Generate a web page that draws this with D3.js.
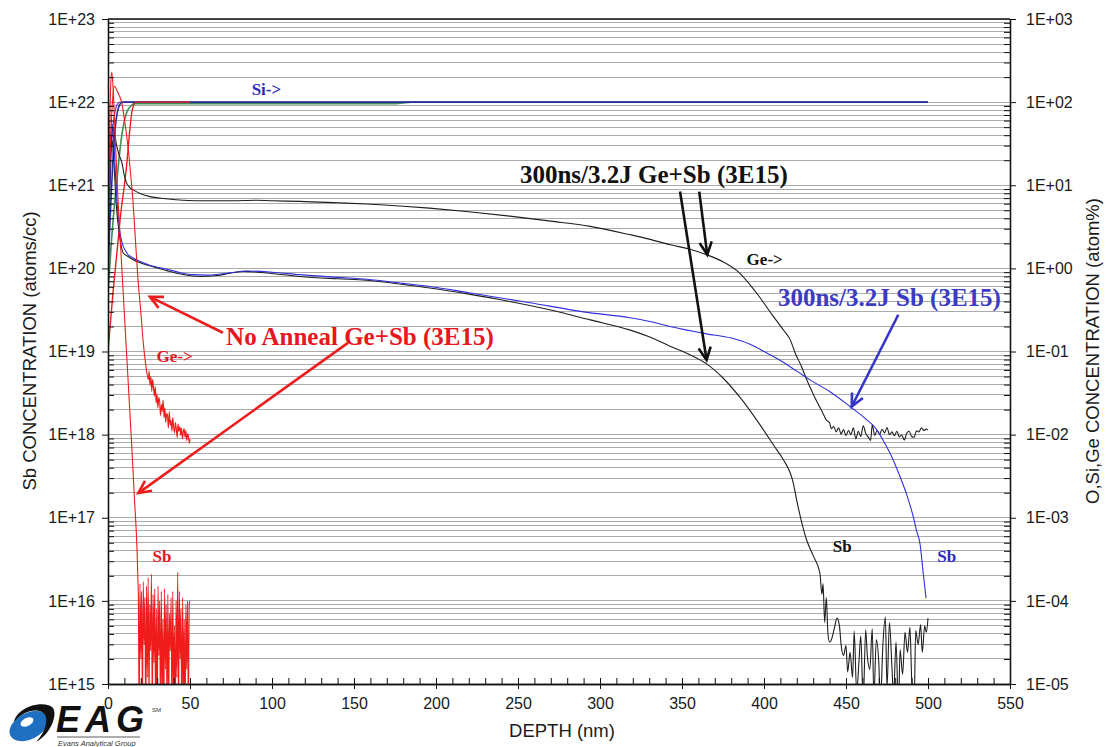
<!DOCTYPE html>
<html><head><meta charset="utf-8">
<script src="https://cdn.jsdelivr.net/npm/d3@7"></script>
<style>body{margin:0;background:#fff}svg{display:block}</style>
</head><body>
<svg id="chart" width="1107" height="747"></svg>
<script>
// ---- SIMS depth profiles: [depth nm, value] ----
// Matrix Si, right axis (atom%)
const siBlue   = [[0,1],[1,3],[2,8],[3,20],[4,40],[5,62],[6,80],[7,92],[8,98],[9.5,100],[500,100]];
const siPurple = [[0,2],[1,8],[2,25],[3,50],[4,72],[5,88],[6,96],[7.3,100],[500,100]];
const siGreen  = [[0,0.5],[2,2],[4,6],[6,15],[8,35],[10,60],[12,80],[14,90],[16,96],[175,96],[185,99.5],[500,99.5]];
const siRed    = [[0,0.1],[3,0.5],[6,2],[8,5],[10,10],[11.4,17.7],[13,40],[14.5,75],[16,95],[17,100],[50,100]];

// 300ns/3.2J Ge+Sb : Ge (atom%, right axis)
const geAnneal = [[0,2],[1,12],[2,35],[3,48],[4,42],[5,32],[6.5,24],[8.4,19],[10,13],[11.4,10.6],[13,9.5],[15.4,8.8],[20,7.9],[25.6,7.3],[35,6.9],[45.7,6.6],[60,6.5],[76,6.5],[90,6.6],[100,6.5],[117,6.4],[140,6.15],[157.7,5.95],[180,5.6],[196,5.3],[220,4.8],[245,4.25],[270,3.7],[294,3.2],[318,2.55],[330,2.25],[343,1.92],[355,1.7],[365,1.46],[375,1.2],[385,0.885],[395,0.52],[405,0.276],[412,0.18],[416,0.138],[419,0.096],[423,0.065],[426,0.046],[431,0.028],[436,0.018],[438,0.015],[440,0.0139],
  [441,0.0118],[442.5,0.0125],[444,0.0108],[445.5,0.0121],[447,0.0102],[448.5,0.0115],[450,0.0097],[451.5,0.0112],[453,0.0100],[454.5,0.0121],[456,0.0089],[457.5,0.0110],[459,0.0095],[460.5,0.0128],[462,0.0104],[463.5,0.0094],[465,0.0085],[466,0.0131],[467.5,0.0098],[469,0.0112],[470.5,0.0101],[472,0.0116],[473.5,0.0105],[475,0.0122],[476.5,0.0100],[478,0.0108],[479.5,0.0097],[481,0.0110],[482.5,0.0094],[484,0.0099],[485.5,0.0086],[487,0.0104],[488.5,0.0110],[490,0.0095],[491.5,0.0093],[493,0.0111],[494.5,0.0108],[496,0.0121],[497.5,0.0112],[499,0.0117],[500,0.0113]];

// 300ns/3.2J Ge+Sb : Sb (atoms/cc, left axis)
const sbAnneal = [[0,3e19],[0.8,4e20],[1.6,2.5e21],[2.5,3.5e21],[3.5,2e21],[5,6e20],[7,2.5e20],[9.3,1.53e20],[12,1.4e20],[15.4,1.27e20],[25,1.08e20],[35.8,9.4e19],[45,8.5e19],[56,8.0e19],[66.3,8.2e19],[75,8.8e19],[82.5,9.2e19],[96.8,8.8e19],[117,8.0e19],[140,7.5e19],[157.7,7.2e19],[180,6.4e19],[196.3,5.8e19],[220,4.9e19],[245,4.0e19],[270,3.15e19],[294,2.4e19],[318,1.82e19],[330,1.5e19],[343,1.15e19],[355,9.1e18],[365,7.1e18],[375,4.8e18],[385.4,2.8e18],[397.6,1.31e18],[407.7,6.6e17],[411.8,5e17],[417.9,2.6e17],[419.9,1.64e17],[426,5.4e16],[430,3.5e16],[434.1,2.15e16],[435.3,1.2e16],
  [436,1.6e16],[437,5.5e15],[438,1.1e16],[439,4.0e15],[440,3.2e15],[441.5,3.6e15],[443,4.8e15],[444.5,6.2e15],[446,5.0e15],[447,3.0e15],[448.5,2.2e15],[450,2.9e15],[451,1.4e15],[452.5,2.4e15],[454,1.2e15],[455,4.3e15],[456.5,8e14],[458,2.0e15],[459,3.8e15],[460.5,6e14],[462,4.5e15],[463,2.2e15],[464.5,1.5e15],[466,4.6e15],[467,7e14],[468.5,3.4e15],[470,1.8e15],[471,6e14],[472.5,3.0e15],[474,6.4e15],[475,9e14],[476.5,5.5e15],[478,1.6e15],[479,7e14],[480.5,3.2e15],[482,5e14],[483,2.6e15],[484.5,1.3e15],[486,4.2e15],[487.5,2.4e15],[489,4.8e15],[490,1.2e15],[491.5,5e14],[492.5,4.4e15],[494,3.0e15],[495.5,5.2e15],[496.5,2.4e15],[498,5.0e15],[499,4.2e15],[500,6.2e15]];

// 300ns/3.2J Sb : Sb (atoms/cc, left axis)
const sbOnly = [[0,5e19],[0.8,6e20],[1.6,3.5e21],[2.5,5.5e21],[3.5,3.5e21],[5,9e20],[7,3e20],[9,1.9e20],[10.4,1.67e20],[12,1.48e20],[14.5,1.36e20],[20,1.2e20],[25,1.1e20],[35.8,9.8e19],[45,8.8e19],[51.8,8.4e19],[60,8.3e19],[70,8.6e19],[84.8,9.3e19],[100,9.0e19],[117,8.4e19],[140,7.8e19],[157.7,7.4e19],[180,6.6e19],[196.3,6.06e19],[220,5.1e19],[257.3,3.86e19],[290,3.0e19],[318.3,2.55e19],[330.5,2.3e19],[342.7,2.0e19],[365,1.63e19],[380,1.45e19],[391.5,1.22e19],[400,1.0e19],[410,7.8e18],[420,5.8e18],[428,4.56e18],[440,3.3e18],[452.4,2.18e18],[462,1.55e18],[468.7,1.15e18],[472.7,8.5e17],[476.8,6.0e17],[482.9,3.13e17],[487,1.9e17],[491,1.03e17],[493,7e16],[495.1,4.9e16],[497.1,2.15e16],[498.8,1.08e16]];

// No anneal Ge+Sb : Ge (atom%, right axis)
const geAsImpl = [[0,2],[1,15],[2,55],[3,120],[3.8,155],[4.6,150],[5.5,138],[7,118],[8.3,100],[10,62],[12.4,26.7],[13.8,13.5],[15.2,6.6],[16.5,2.6],[18.3,0.73],[20,0.3],[21.5,0.128],[23,0.07],
  [24.6,0.046],[25.1,0.058],[25.6,0.039],[26.2,0.050],[26.7,0.033],[27.2,0.046],[27.8,0.036],[28.3,0.029],[28.8,0.038],[29.4,0.024],[29.9,0.031],[30.4,0.021],[31,0.028],[31.5,0.025],[32,0.017],[32.6,0.023],[33.1,0.019],[33.6,0.026],[34.2,0.016],[34.7,0.021],[35.2,0.014],[35.8,0.018],[36.3,0.017],[36.8,0.012],[37.4,0.019],[37.9,0.013],[38.4,0.015],[39,0.011],[39.5,0.016],[40,0.0125],[40.6,0.0105],[41.1,0.014],[41.6,0.012],[42.2,0.0092],[42.7,0.0135],[43.2,0.011],[43.8,0.0125],[44.3,0.0098],[44.8,0.012],[45.4,0.0089],[45.9,0.0108],[46.4,0.0118],[47,0.0093],[47.5,0.0112],[48,0.0085],[48.6,0.0102],[49.1,0.0094],[49.6,0.0079],[50,0.0088]];

// No anneal Ge+Sb : Sb (atoms/cc, left axis)
const sbAsImpl = [[0,5e19],[0.5,5e20],[1.0,4e21],[1.6,1.5e22],[2.3,2.3e22],[3.0,1.6e22],[4.0,6e21],[5.0,2e21],[6.1,6.7e20],[8,1.43e20],[10,2.8e19],[12,5.5e18],[14.6,6.6e17],[16,1.9e17],[17.7,4.1e16],[18.3,1.65e16],
  [18.5,1.2e16],[19,4e14],[19.5,1.6e16],[20,2e15],[20.5,1.3e16],[21,5e14],[21.5,1.7e16],[22,3e15],[22.5,1.1e16],[23,3e14],[23.5,1.5e16],[24,1.2e15],[24.5,1.9e16],[25,6e14],[25.5,9e15],[26,2.5e15],[26.5,2.1e16],[27,4e14],[27.5,1.2e16],[28,1.8e15],[28.5,1.4e16],[29,5e14],[29.5,8e15],[30,3e14],[30.5,1.5e16],[31,2.2e15],[31.5,1e16],[32,4e14],[32.5,1.3e16],[33,7e14],[33.5,6e15],[34,3e14],[34.5,1.4e16],[35,1.5e15],[35.5,9e15],[36,4e14],[36.5,1.2e16],[37,6e14],[37.5,7e15],[38,2.5e15],[38.5,1.1e16],[39,3e14],[39.5,1.3e16],[40,8e14],[40.5,5e15],[41,3e14],[41.5,1e16],[42,1.2e15],[42.5,2.2e16],[43,4e14],[43.5,1.3e16],[44,2e15],[44.5,8e15],[45,3e14],[45.5,1.1e16],[46,7e14],[46.5,6e15],[47,3e14],[47.5,9e15],[48,1.5e15],[48.5,1e16],[49,4e14],[49.5,9e15],[50,1e16]];

// Axis ticks
const depthTicks = [0,50,100,150,200,250,300,350,400,450,500,550];
const leftDecades = [1e15,1e16,1e17,1e18,1e19,1e20,1e21,1e22,1e23];
const rightDecades = [1e-5,1e-4,1e-3,1e-2,1e-1,1e0,1e1,1e2,1e3];

// Annotations, positioned in [depth, atoms/cc]
const notes = [
  {t:"300ns/3.2J Ge+Sb (3E15)", p:[251.2,1.07e21], c:"#111", s:25},
  {t:"300ns/3.2J Sb (3E15)",    p:[408.5,3.55e19], c:"#3b3bc4", s:25},
  {t:"No Anneal Ge+Sb (3E15)",  p:[72,1.2e19],     c:"#e8161e", s:25},
  {t:"Si->", p:[87.6,1.23e22], c:"#2b2bbf", s:17},
  {t:"Ge->", p:[389.4,1.1e20], c:"#111", s:17},
  {t:"Ge->", p:[29.6,7.5e18],  c:"#e8161e", s:17},
  {t:"Sb",   p:[27.2,2.9e16],  c:"#e8161e", s:17},
  {t:"Sb",   p:[441.9,3.9e16], c:"#111", s:17},
  {t:"Sb",   p:[505.6,2.95e16],c:"#2b2bbf", s:17}
];
const arrows = [
  {a:[348.8,8.4e20], b:[365,7.9e18],   c:"#111"},
  {a:[360.5,8.4e20], b:[365.4,1.46e20],c:"#111"},
  {a:[70.1,1.68e19], b:[25.6,4.55e19], c:"#ee1c1c"},
  {a:[146.3,1.27e19],b:[18.5,1.98e17], c:"#ee1c1c"},
  {a:[481.9,2.77e19],b:[453.5,2.18e18],c:"#3535c8"}
];

// ---- layout & scales ----
const P = {l:108, r:1010, t:19, b:684};
const svg = d3.select("#chart");
const x  = d3.scaleLinear().domain([0,550]).range([P.l,P.r]);
const yL = d3.scaleLog().domain([1e15,1e23]).range([P.b,P.t]);
const yR = d3.scaleLog().domain([1e-5,1e3]).range([P.b,P.t]);
const fmtE = v => { const e = Math.round(Math.log10(v)); return "1E" + (e<0?"-":"+") + String(Math.abs(e)).padStart(2,"0"); };
const sans = "'Liberation Sans', Arial, sans-serif";
const serif = "'Liberation Serif', 'Times New Roman', serif";

// gridlines at every log sub-division
const gridVals = [];
leftDecades.slice(0,-1).forEach(d => { for (let m=1;m<=9;m++) gridVals.push(d*m); });
gridVals.push(1e23);
svg.append("g").selectAll("line").data(gridVals).join("line")
  .attr("x1",P.l).attr("x2",P.r).attr("y1",d=>yL(d)).attr("y2",d=>yL(d))
  .attr("stroke","#ababab").attr("stroke-width",1).attr("shape-rendering","crispEdges");

// curves
svg.append("clipPath").attr("id","plot").append("rect")
  .attr("x",P.l).attr("y",P.t).attr("width",P.r-P.l).attr("height",P.b-P.t);
const data = svg.append("g").attr("clip-path","url(#plot)");
const lineL = d3.line().curve(d3.curveMonotoneX).x(d=>x(d[0])).y(d=>yL(d[1]));
const lineR = d3.line().curve(d3.curveMonotoneX).x(d=>x(d[0])).y(d=>yR(d[1]));
const series = [
  [siGreen, lineR, "#3f8f55", 1.6],
  [siPurple,lineR, "#8a3fc0", 1.3],
  [siBlue,  lineR, "#24309c", 1.6],
  [siRed,   lineR, "#f01c1c", 1.4],
  [geAnneal,lineR, "#1e1e1e", 1.1],
  [sbAnneal,lineL, "#1e1e1e", 1.1],
  [sbOnly,  lineL, "#2f2fe0", 1.1],
  [geAsImpl,lineR, "#f01c1c", 1.1],
  [sbAsImpl,lineL, "#f01c1c", 1.1]
];
series.forEach(([d,gen,col,w]) => data.append("path").datum(d)
  .attr("d",gen).attr("fill","none").attr("stroke",col).attr("stroke-width",w).attr("stroke-linejoin","round"));

// axes
const axG = svg.append("g").attr("font-family",sans);
const minorL = gridVals.filter(v => !leftDecades.includes(v));
const minorR = minorL.map(v => v/1e20);
axG.append("g").attr("transform",`translate(${P.l},0)`)
  .call(d3.axisLeft(yL).tickValues(minorL).tickSize(-6).tickSizeOuter(0).tickFormat(""));
axG.append("g").attr("transform",`translate(${P.l},0)`)
  .call(d3.axisLeft(yL).tickValues(leftDecades).tickSize(6).tickSizeOuter(0).tickPadding(7).tickFormat(fmtE));
axG.append("g").attr("transform",`translate(${P.r},0)`)
  .call(d3.axisRight(yR).tickValues(minorR).tickSize(-6).tickSizeOuter(0).tickFormat(""));
axG.append("g").attr("transform",`translate(${P.r},0)`)
  .call(d3.axisRight(yR).tickValues(rightDecades).tickSize(6).tickSizeOuter(0).tickPadding(10).tickFormat(fmtE));
axG.append("g").attr("transform",`translate(0,${P.b})`)
  .call(d3.axisBottom(x).tickValues(d3.range(0,551,10)).tickSize(-6).tickSizeOuter(0).tickFormat(""));
axG.append("g").attr("transform",`translate(0,${P.b})`)
  .call(d3.axisBottom(x).tickValues(depthTicks).tickSize(5).tickSizeOuter(0).tickPadding(9).tickFormat(d3.format("d")));
axG.selectAll(".domain").attr("stroke","#111").attr("stroke-width",1.3);
axG.selectAll(".tick line").attr("stroke","#111");
axG.selectAll("text").attr("font-size",16).attr("fill","#1a1a1a").attr("font-family",sans);
svg.append("line").attr("x1",P.l).attr("x2",P.r).attr("y1",P.t).attr("y2",P.t)
  .attr("stroke","#111").attr("stroke-width",1.3);

// axis titles
svg.append("text").attr("transform","translate(36,351) rotate(-90)").attr("text-anchor","middle")
  .attr("font-family",sans).attr("font-size",18.5).attr("fill","#1a1a1a").text("Sb CONCENTRATION (atoms/cc)");
svg.append("text").attr("transform","translate(1099,351) rotate(-90)").attr("text-anchor","middle")
  .attr("font-family",sans).attr("font-size",18.5).attr("fill","#1a1a1a").text("O,Si,Ge CONCENTRATION (atom%)");
svg.append("text").attr("x",(P.l+P.r)/2+3).attr("y",737).attr("text-anchor","middle")
  .attr("font-family",sans).attr("font-size",18.5).attr("fill","#1a1a1a").text("DEPTH (nm)");

// annotation arrows
const ann = svg.append("g");
arrows.forEach(a => {
  const x1=x(a.a[0]), y1=yL(a.a[1]), x2=x(a.b[0]), y2=yL(a.b[1]);
  const ang = Math.atan2(y2-y1,x2-x1), L=14, spread=0.45;
  ann.append("line").attr("x1",x1).attr("y1",y1).attr("x2",x2).attr("y2",y2)
    .attr("stroke",a.c).attr("stroke-width",2.6);
  ann.append("path")
    .attr("d",`M${x2-L*Math.cos(ang-spread)},${y2-L*Math.sin(ang-spread)}L${x2},${y2}L${x2-L*Math.cos(ang+spread)},${y2-L*Math.sin(ang+spread)}`)
    .attr("fill","none").attr("stroke",a.c).attr("stroke-width",2.6).attr("stroke-linejoin","miter");
});
notes.forEach(n => ann.append("text").attr("x",x(n.p[0])).attr("y",yL(n.p[1]))
  .attr("font-family",serif).attr("font-weight","bold").attr("font-size",n.s).attr("fill",n.c).text(n.t));

// company logo on its own white plate
const logo = svg.append("g");
logo.append("rect").attr("x",0).attr("y",710).attr("width",165).attr("height",37).attr("fill","#fff");
logo.append("ellipse").attr("cx",29).attr("cy",726).attr("rx",21).attr("ry",13)
  .attr("transform","rotate(-28 29 726)").attr("fill","#1f6fc0");
logo.append("path").attr("d","M14,722 C18,705 46,700 53,708 C58,715 50,735 36,742 C46,732 50,716 42,712 C34,708 22,712 14,722Z")
  .attr("fill","#111");
logo.append("ellipse").attr("cx",27).attr("cy",722).attr("rx",7).attr("ry",4)
  .attr("transform","rotate(-28 27 722)").attr("fill","#fff");
logo.append("text").attr("x",56).attr("y",732).attr("font-family",sans).attr("font-weight","bold")
  .attr("font-style","italic").attr("font-size",36).attr("letter-spacing",5).attr("fill","#111").text("EAG");
logo.append("text").attr("x",152).attr("y",712).attr("font-family",sans).attr("font-size",6).attr("fill","#333").text("SM");
logo.append("line").attr("x1",57).attr("x2",140).attr("y1",737).attr("y2",737).attr("stroke","#333").attr("stroke-width",0.8);
logo.append("text").attr("x",58).attr("y",746).attr("font-family",sans).attr("font-style","italic")
  .attr("font-size",7.5).attr("fill","#333").text("Evans Analytical Group");
</script>
</body></html>
